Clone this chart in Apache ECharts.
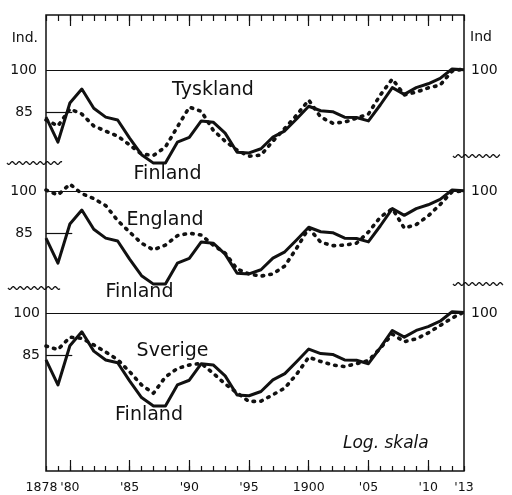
<!DOCTYPE html>
<html><head><meta charset="utf-8">
<script src="https://cdn.jsdelivr.net/npm/echarts@6/dist/echarts.min.js"></script>
<style>html,body{margin:0;padding:0;background:#fff}#c{width:512px;height:495px}</style>
</head><body><div id="c"></div>
<script>
const years = [1878,1879,1880,1881,1882,1883,1884,1885,1886,1887,1888,1889,1890,1891,1892,1893,1894,1895,1896,1897,1898,1899,1900,1901,1902,1903,1904,1905,1906,1907,1908,1909,1910,1911,1912,1913];
const finland = [83.5,75.8,88.2,93.1,86.4,83.5,82.6,77.0,72.2,69.9,69.9,75.8,77.2,82.3,81.9,78.5,72.9,72.7,73.9,77.3,79.2,83.0,87.1,85.6,85.3,83.5,83.4,82.3,87.6,93.6,91.2,93.6,95.0,97.0,100.6,100.3];
const tyskland = [82.6,80.7,86.2,84.5,80.7,79.1,77.6,75.0,72.4,72.0,74.4,80.4,86.8,85.4,79.4,76.1,73.5,71.8,72.1,76.1,80.0,84.2,89.2,83.5,81.6,81.9,83.2,84.5,91.0,96.8,91.0,92.0,93.5,94.5,99.8,100.6];
const england = [100.6,98.7,102.9,99.2,97.3,94.7,89.4,85.5,81.9,79.8,81.3,84.3,85.1,84.5,81.3,78.8,74.1,72.7,72.1,72.7,75.0,80.4,86.8,82.2,81.1,81.3,81.9,85.5,90.6,93.6,86.8,88.0,91.0,95.1,99.9,100.2];
const sverige = [88.1,86.9,91.2,90.8,88.5,86.1,83.6,79.8,75.8,73.4,78.2,80.8,81.9,82.4,79.3,76.1,73.5,71.1,71.2,73.0,74.9,79.1,84.4,83.0,81.9,81.4,82.3,83.3,87.4,92.3,89.6,90.6,92.7,95.4,98.2,100.5];
const yTickValues = [85, 100];
const yRightValues = [100];
const xFirstYear = [1878];
const xLabelYears = [1880,1885,1890,1895,1900,1905,1910,1913];
const xMajorYears = [1880,1885,1890,1895,1900,1905,1910];
const panelNames = ['Tyskland','England','Sverige'];

const FONT = 'DejaVu Sans';
const INK = '#111';
const pairs = arr => arr.map((v, i) => [years[i], v]);

const L = 46, W = 418;
const panelTops = [45.9, 166.9, 288.7];
const panelH = 136;
const yMin = 65, yMax = 110;

const grids = [{left: L, top: 15, width: W, height: 456, show: true, borderColor: INK, borderWidth: 1.5, backgroundColor: 'transparent'}];
panelTops.forEach(t => grids.push({left: L, top: t, width: W, height: panelH}));

const xBase = {type: 'value', min: 1878, max: 1913, interval: 1, splitLine: {show: false}};
const yearFmt = v => (v === 1878 || v === 1900) ? String(v) : "'" + String(v).slice(2);
const xAxes = [
  Object.assign({}, xBase, {gridIndex: 0, position: 'bottom', axisLine: {show: false},
    axisTick: {show: true, inside: true, length: 5, lineStyle: {color: INK, width: 1.2}},
    axisLabel: {show: true, customValues: xLabelYears, showMinLabel: true, showMaxLabel: true,
      margin: 10, color: INK, fontFamily: FONT, fontSize: 12.5, formatter: yearFmt}}),
  Object.assign({}, xBase, {gridIndex: 0, position: 'bottom', axisLine: {show: false},
    axisTick: {show: true, inside: true, length: 11, customValues: xMajorYears, lineStyle: {color: INK, width: 1.2}},
    axisLabel: {show: true, customValues: xFirstYear, showMinLabel: true, margin: 10, color: INK,
      fontFamily: FONT, fontSize: 12.5, formatter: v => '{a|' + yearFmt(v) + '}',
      rich: {a: {fontFamily: FONT, fontSize: 12.5, color: INK, padding: [0, 9, 0, 0]}}}}),
  Object.assign({}, xBase, {gridIndex: 0, position: 'top', axisLine: {show: false},
    axisTick: {show: true, inside: true, length: 6, lineStyle: {color: INK, width: 1.2}},
    axisLabel: {show: false}}),
  Object.assign({}, xBase, {gridIndex: 0, position: 'top', axisLine: {show: false},
    axisTick: {show: true, inside: true, length: 11, customValues: xMajorYears, lineStyle: {color: INK, width: 1.2}},
    axisLabel: {show: false}})
];
[1, 2, 3].forEach(g => xAxes.push(Object.assign({}, xBase, {gridIndex: g, show: false})));

const yAxes = [{type: 'value', gridIndex: 0, show: false, min: 0, max: 1}];
const leftMargins = [9, 9, 6];
[1, 2, 3].forEach((g, i) => yAxes.push({
  type: 'log', logBase: 10, gridIndex: g, min: yMin, max: yMax, position: 'left',
  axisLine: {show: false}, axisTick: {show: false}, splitLine: {show: false},
  axisLabel: {show: true, customValues: yTickValues, showMinLabel: true, showMaxLabel: true,
    margin: leftMargins[i], color: INK, fontFamily: FONT, fontSize: 14,
    formatter: v => Math.round(v) === 85 ? '{p|85}' : '100',
    rich: {p: {fontFamily: FONT, fontSize: 14, color: INK, padding: [0, i === 2 ? 0 : 4, 0, 0]}}}
}));
[1, 2, 3].forEach(g => yAxes.push({
  type: 'log', logBase: 10, gridIndex: g, min: yMin, max: yMax, position: 'right',
  axisLine: {show: false}, axisTick: {show: false}, splitLine: {show: false},
  axisLabel: {show: true, customValues: yRightValues, margin: 7, color: INK, fontFamily: FONT, fontSize: 14,
    padding: [0, 0, 7, 0], formatter: v => '100'}
}));

const refLines = {
  silent: true, symbol: ['none', 'none'], label: {show: false},
  lineStyle: {color: INK, type: 'solid', width: 1.2},
  data: [{yAxis: 100}, [{coord: [1878, 85]}, {coord: [1880.2, 85]}]]
};
const others = [tyskland, england, sverige];
const series = [];
others.forEach((arr, i) => {
  series.push({type: 'line', name: panelNames[i], xAxisIndex: 4 + i, yAxisIndex: 1 + i, data: pairs(arr),
    symbol: 'none', animation: false,
    lineStyle: {color: INK, width: 3.6, type: [1.5, 6.3], cap: 'round', join: 'round'},
    markLine: refLines, z: 2});
  series.push({type: 'line', name: 'Finland', xAxisIndex: 4 + i, yAxisIndex: 1 + i, data: pairs(finland),
    symbol: 'none', animation: false, lineStyle: {color: INK, width: 3, join: 'round'}, z: 3});
});

function wave(x0, x1, y) {
  const pts = [];
  for (let x = x0; x <= x1; x += 0.5) pts.push([x, y + 1.4 * Math.sin((x - x0) / 7 * 2 * Math.PI)]);
  return {type: 'polyline', shape: {points: pts}, style: {stroke: INK, lineWidth: 1.3, fill: null}, silent: true};
}
const txt = (s, x, y, size, align, extra) => ({type: 'text', x: x, y: y, silent: true,
  style: Object.assign({text: s, fill: INK, font: size + 'px "' + FONT + '"', align: align || 'center', verticalAlign: 'middle'}, extra || {})});

const graphic = [
  txt('Ind.', 38, 38, 14, 'right'),
  txt('Ind', 470, 37, 14, 'left'),
  txt('Tyskland', 213, 90, 19),
  txt('Finland', 167.5, 174.5, 19),
  txt('England', 165, 220.5, 19),
  txt('Finland', 139.5, 292.5, 19),
  txt('Sverige', 172.5, 351, 19),
  txt('Finland', 149, 415.5, 19),
  {type: 'text', x: 343, y: 444, silent: true, style: {text: 'Log. skala', fill: INK, font: 'italic 17px "' + FONT + '"', align: 'left', verticalAlign: 'middle'}},
  wave(7, 62, 163), wave(453, 500, 156),
  wave(8, 60, 288), wave(453, 503, 284)
];

const chart = echarts.init(document.getElementById('c'), null, {renderer: 'canvas'});
chart.setOption({
  animation: false,
  backgroundColor: '#fff',
  grid: grids, xAxis: xAxes, yAxis: yAxes, series: series, graphic: graphic
});
</script></body></html>
